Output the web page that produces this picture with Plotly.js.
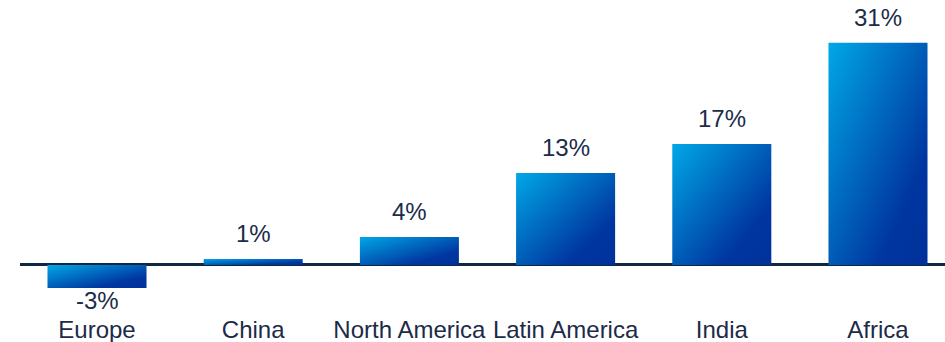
<!DOCTYPE html>
<html>
<head>
<meta charset="utf-8">
<script src="https://cdn.plot.ly/plotly-3.0.1.min.js"></script>
<style>html,body{margin:0;padding:0;background:#fff;}#chart{width:945px;height:342px;}</style>
</head>
<body>
<div id="chart"></div>
<script>
const regions = ["Europe", "China", "North America", "Latin America", "India", "Africa"];
const growth = [-3.2, 0.85, 3.9, 12.85, 16.9, 31];
const labels = ["-3%", "1%", "4%", "13%", "17%", "31%"];

const trace = {
  type: 'bar',
  x: regions,
  y: growth,
  marker: {color: '#0068C0', line: {width: 0}},
  hoverinfo: 'none'
};

const annotations = regions.map(function(r, i){
  const pos = growth[i] >= 0;
  return {
    x: r, y: growth[i], xref: 'x', yref: 'y',
    text: labels[i], showarrow: false,
    xanchor: 'center', yanchor: pos ? 'bottom' : 'top',
    yshift: pos ? 11 : 2,
    borderpad: 0,
    font: {family: 'Liberation Sans, Arial, sans-serif', size: 24, color: '#1C2B48'}
  };
});

const layout = {
  width: 945, height: 342,
  margin: {l: 20, r: 0, t: 7, b: 29},
  paper_bgcolor: '#fff', plot_bgcolor: '#fff',
  bargap: 0.366,
  showlegend: false,
  font: {family: 'Liberation Sans, Arial, sans-serif', size: 24, color: '#1C2B48'},
  annotations: annotations,
  xaxis: {
    range: [-0.493, 5.429],
    showgrid: false, showline: false, zeroline: false, ticks: '',
    tickfont: {size: 24, color: '#1C2B48'},
    fixedrange: true
  },
  yaxis: {
    range: [-6.7, 36],
    showgrid: false, showticklabels: false, ticks: '', showline: false,
    zeroline: true, zerolinecolor: '#0E2841', zerolinewidth: 3,
    fixedrange: true
  }
};

Plotly.newPlot('chart', [trace], layout, {staticPlot: true, displayModeBar: false}).then(function(gd){
  const svg = gd.querySelector('svg.main-svg');
  const ns = 'http://www.w3.org/2000/svg';
  let defs = svg.querySelector('defs');
  if (!defs) { defs = document.createElementNS(ns, 'defs'); svg.insertBefore(defs, svg.firstChild); }
  const g = document.createElementNS(ns, 'linearGradient');
  g.setAttribute('id', 'barGrad');
  g.setAttribute('x1', '0'); g.setAttribute('y1', '0');
  g.setAttribute('x2', '1'); g.setAttribute('y2', '1');
  [['0', '#00A8E6'], ['0.75', '#0036A0'], ['1', '#00319A']].forEach(function(s){
    const st = document.createElementNS(ns, 'stop');
    st.setAttribute('offset', s[0]);
    st.setAttribute('stop-color', s[1]);
    g.appendChild(st);
  });
  defs.appendChild(g);
  gd.querySelectorAll('.bars .point path').forEach(function(p){
    p.style.fill = 'url(#barGrad)';
  });
});
</script>
</body>
</html>
